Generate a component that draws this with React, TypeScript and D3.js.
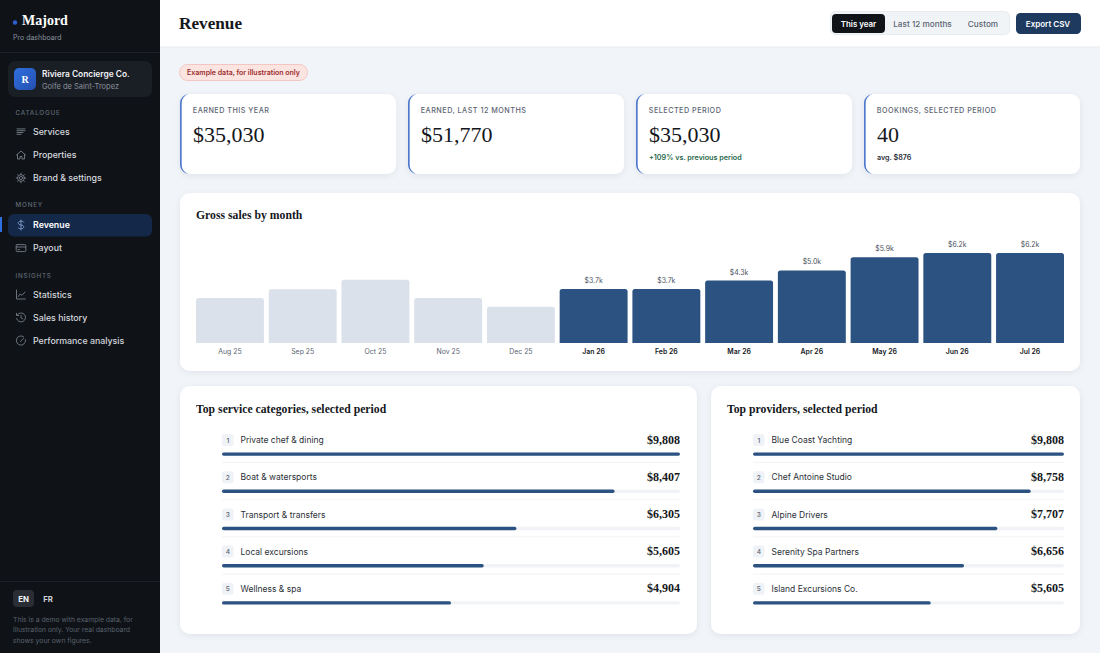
import React from 'react';
import * as d3 from 'd3';

const months = ['Aug 25', 'Sep 25', 'Oct 25', 'Nov 25', 'Dec 25', 'Jan 26', 'Feb 26', 'Mar 26', 'Apr 26', 'May 26', 'Jun 26', 'Jul 26'];
const monthSales = [3100, 3700, 4350, 3100, 2500, 3720, 3720, 4300, 5000, 5900, 6200, 6200];
const monthLabels = ['', '', '', '', '', '$3.7k', '$3.7k', '$4.3k', '$5.0k', '$5.9k', '$6.2k', '$6.2k'];
const selectedFrom = 5;

const kpiTitles = ['EARNED THIS YEAR', 'EARNED, LAST 12 MONTHS', 'SELECTED PERIOD', 'BOOKINGS, SELECTED PERIOD'];
const kpiValues = ['$35,030', '$51,770', '$35,030', '40'];
const kpiNotes = ['', '', '+109% vs. previous period', 'avg. $876'];

const categoryNames = ['Private chef & dining', 'Boat & watersports', 'Transport & transfers', 'Local excursions', 'Wellness & spa'];
const categoryValues = [9808, 8407, 6305, 5605, 4904];
const providerNames = ['Blue Coast Yachting', 'Chef Antoine Studio', 'Alpine Drivers', 'Serenity Spa Partners', 'Island Excursions Co.'];
const providerValues = [9808, 8758, 7707, 6656, 5605];

const navCatalogue = ['Services', 'Properties', 'Brand & settings'];
const navMoney = ['Revenue', 'Payout'];
const navInsights = ['Statistics', 'Sales history', 'Performance analysis'];

const sans = 'Inter, sans-serif';
const serif = '"Liberation Serif", serif';
const money = d3.format('$,');

const NavIcon = ({ name, x, y, color }: { name: string; x: number; y: number; color: string }) => {
  const common = { fill: 'none', stroke: color, strokeWidth: 0.9, strokeLinecap: 'round' as const, strokeLinejoin: 'round' as const };
  return (
    <g transform={`translate(${x},${y})`} {...common}>
      {name === 'Services' && <path d="M-4 -2.6H4M-4 -0.8H4M-4 1H2M-4 2.8H0" />}
      {name === 'Properties' && <path d="M-4.5 0L0 -4L4.5 0M-3.5 -0.5V4H-1V1.5H1V4H3.5V-0.5" />}
      {name === 'Brand & settings' && (<><circle r="1.6" /><circle r="3.4" /><path d="M0 -4.8V-3.6M0 4.8V3.6M-4.8 0H-3.6M4.8 0H3.6M-3.4 -3.4L-2.5 -2.5M3.4 3.4L2.5 2.5M3.4 -3.4L2.5 -2.5M-3.4 3.4L-2.5 2.5" /></>)}
      {name === 'Revenue' && <path d="M0 -5V5M2.8 -2.8C2.2 -3.8 1 -3.8 0 -3.8C-1.6 -3.8 -2.8 -3 -2.8 -1.8C-2.8 0.8 2.8 -0.8 2.8 1.8C2.8 3 1.6 3.8 0 3.8C-1 3.8 -2.2 3.6 -2.8 2.8" />}
      {name === 'Payout' && (<><rect x="-4.8" y="-3.4" width="9.6" height="7" rx="1" /><path d="M-4.8 -1H4.8M-3 1.6H-1.5" /></>)}
      {name === 'Statistics' && <path d="M-4.5 -4.5V4.5H4.5M-2.8 2L-0.8 -0.5L1 0.8L4 -2.5" />}
      {name === 'Sales history' && <path d="M-3.6 -2.8A4.5 4.5 0 1 1 -4.4 1M-4.5 -4.2V-2H-2.3M0 -2.2V0.4L1.8 1.4" />}
      {name === 'Performance analysis' && <path d="M2.6 -3.8A4.6 4.6 0 1 0 4.5 -0.8M-0.6 1L2.6 -2.2" />}
    </g>
  );
};

const RankList = ({ x0, x1, title, names, values }: { x0: number; x1: number; title: string; names: string[]; values: number[] }) => {
  const rowY = d3.scalePoint<number>().domain(d3.range(names.length)).range([440, 588.8]);
  const w = d3.scaleLinear().domain([0, d3.max(values) as number]).range([0, x1 - x0]);
  return (
    <g>
      <text x={x0 - 26} y={412.5} fontFamily={serif} fontWeight={700} fontSize={11.7} letterSpacing={0.02} fill="#14171c">{title}</text>
      {names.map((n, i) => {
        const y = rowY(i) as number;
        return (
          <g key={n}>
            <rect x={x0} y={y - 6} width={11.5} height={12} rx={2.5} fill="#eff2f6" />
            <text x={x0 + 5.8} y={y + 2.6} textAnchor="middle" fontFamily={sans} fontSize={6.6} fontWeight={500} fill="#5b6472">{i + 1}</text>
            <text x={x0 + 18.5} y={y + 3.2} fontFamily={sans} fontSize={8.5} fill="#2b3038">{n}</text>
            <text x={x1} y={y + 3.6} textAnchor="end" fontFamily={serif} fontWeight={700} fontSize={12} fill="#14171c">{money(values[i])}</text>
            <rect x={x0} y={y + 12.4} width={x1 - x0} height={3.4} rx={1.7} fill="#f1f3f6" />
            <rect x={x0} y={y + 12.4} width={w(values[i])} height={3.4} rx={1.7} fill="#2c5282" />
            {i < names.length - 1 && <line x1={x0} x2={x1} y1={y + 22.4} y2={y + 22.4} stroke="#eef0f3" strokeWidth={0.8} />}
          </g>
        );
      })}
    </g>
  );
};

export default function App() {
  const x = d3.scaleBand<string>().domain(months).range([196, 1064]).paddingInner(0.066);
  const y = d3.scaleLinear().domain([0, 6200]).range([343, 253]);
  const kpiX = d3.scaleBand<number>().domain(d3.range(4)).range([180, 1080]).paddingInner(0.0525);

  const navSections = [
    { label: 'CATALOGUE', labelY: 112, items: navCatalogue, ys: [131.5, 155, 178] },
    { label: 'MONEY', labelY: 204.5, items: navMoney, ys: [225, 248] },
    { label: 'INSIGHTS', labelY: 275, items: navInsights, ys: [294.5, 317.5, 340.5] },
  ];

  return (
    <svg width={1100} height={653} viewBox="0 0 1100 653" style={{ position: 'absolute', left: 0, top: 0, display: 'block' }}>
      <defs>
        <filter id="soft" x="-5%" y="-10%" width="110%" height="125%">
          <feDropShadow dx="0" dy="1.5" stdDeviation="3" floodColor="#1a2a44" floodOpacity="0.07" />
        </filter>
        <linearGradient id="logo" x1="0" y1="0" x2="1" y2="1">
          <stop offset="0" stopColor="#2f6fe0" />
          <stop offset="1" stopColor="#2450b0" />
        </linearGradient>
      </defs>
      <rect width={1100} height={653} fill="#f1f4f8" />

      {/* header */}
      <rect x={160} width={940} height={47} fill="#fff" />
      <line x1={160} x2={1100} y1={47} y2={47} stroke="#e8ebef" />
      <text x={179} y={28.5} fontFamily={serif} fontWeight={700} fontSize={17.2} fill="#14171c">Revenue</text>
      <rect x={830.5} y={11.5} width={179} height={23} rx={5} fill="#f1f4f7" stroke="#e8ebef" />
      <rect x={832} y={14} width={53} height={19} rx={4} fill="#101418" />
      <text x={858.5} y={26.7} textAnchor="middle" fontFamily={sans} fontWeight={600} fontSize={7.9} fill="#fff">This year</text>
      <text x={922.5} y={26.7} textAnchor="middle" fontFamily={sans} fontWeight={500} fontSize={8.2} fill="#5b6472">Last 12 months</text>
      <text x={983} y={26.7} textAnchor="middle" fontFamily={sans} fontWeight={500} fontSize={8.2} fill="#5b6472">Custom</text>
      <rect x={1016} y={13} width={65} height={21} rx={4.5} fill="#1f3a5f" />
      <text x={1048} y={26.8} textAnchor="middle" fontFamily={sans} fontWeight={600} fontSize={8} fill="#fff">Export CSV</text>

      {/* sidebar */}
      <rect width={160} height={653} fill="#0f1318" />
      <circle cx={15} cy={22.5} r={2.2} fill="#2f5fd0" />
      <text x={22} y={25} fontFamily={serif} fontWeight={700} fontSize={14} fill="#fff">Majord</text>
      <text x={13} y={40} fontFamily={sans} fontSize={7} fill="#8a919c">Pro dashboard</text>
      <line x1={0} x2={160} y1={52.5} y2={52.5} stroke="#1d2229" />
      <rect x={8} y={61} width={144} height={36} rx={7} fill="#1a1e25" />
      <rect x={14} y={68} width={22} height={22} rx={5} fill="url(#logo)" />
      <text x={25} y={82.5} textAnchor="middle" fontFamily={serif} fontWeight={700} fontSize={10} fill="#fff">R</text>
      <text x={42} y={76.5} fontFamily={sans} fontWeight={600} fontSize={8.4} fill="#f2f4f7">Riviera Concierge Co.</text>
      <text x={42} y={88.5} fontFamily={sans} fontSize={7.5} fill="#8a919c">Golfe de Saint-Tropez</text>

      <rect x={8} y={214} width={144} height={22.5} rx={6} fill="#14284a" />
      <rect x={0} y={217} width={2} height={15} fill="#2f6fe0" />
      {navSections.map(s => (
        <g key={s.label}>
          <text x={15.5} y={s.labelY + 2.5} fontFamily={sans} fontWeight={500} fontSize={6.3} letterSpacing={0.8} fill="#5f6773">{s.label}</text>
          {s.items.map((item, i) => (
            <g key={item}>
              <NavIcon name={item} x={21} y={s.ys[i]} color={item === 'Revenue' ? '#7f9cc9' : '#767d88'} />
              <text x={33} y={s.ys[i] + 3.2} fontFamily={sans} fontWeight={item === 'Revenue' ? 600 : 500} fontSize={8.8} fill={item === 'Revenue' ? '#fff' : '#d5d9df'}>{item}</text>
            </g>
          ))}
        </g>
      ))}
      <line x1={0} x2={160} y1={581.5} y2={581.5} stroke="#1d2229" />
      <rect x={13} y={590} width={21} height={17} rx={4} fill="#2a2e34" />
      <text x={23.5} y={601.5} textAnchor="middle" fontFamily={sans} fontWeight={700} fontSize={7.8} fill="#f2f4f7">EN</text>
      <text x={48} y={601.5} textAnchor="middle" fontFamily={sans} fontWeight={700} fontSize={7.8} fill="#cfd3d9">FR</text>
      {['This is a demo with example data, for', 'illustration only. Your real dashboard', 'shows your own figures.'].map((t, i) => (
        <text key={t} x={13} y={621.5 + i * 10.8} fontFamily={sans} fontSize={6.8} fill="#5a616c">{t}</text>
      ))}

      {/* example badge */}
      <rect x={179.5} y={64.5} width={128} height={16} rx={8} fill="#fce4e1" stroke="#f0bdb8" strokeWidth={0.8} />
      <text x={243.5} y={75.1} textAnchor="middle" fontFamily={sans} fontWeight={600} fontSize={7} fill="#9b2c2c">Example data, for illustration only</text>

      {/* kpi cards */}
      {kpiTitles.map((t, i) => {
        const cx = kpiX(i) as number;
        const cw = kpiX.bandwidth();
        return (
          <g key={t}>
            <rect x={cx} y={94} width={cw} height={80} rx={9} fill="#fff" filter="url(#soft)" />
            <path d={`M${cx + 9} 94 A9 9 0 0 0 ${cx} 103 V165 A9 9 0 0 0 ${cx + 9} 174 A9 9 0 0 1 ${cx + 1.7} 165 V103 A9 9 0 0 1 ${cx + 9} 94 Z`} fill="#4f7bcf" />
            <text x={cx + 12.8} y={113} fontFamily={sans} fontWeight={500} fontSize={7.2} letterSpacing={0.5} fill="#5b6472">{t}</text>
            <text x={cx + 13} y={141.5} fontFamily={serif} fontSize={22} fill="#14171c">{kpiValues[i]}</text>
            {kpiNotes[i] && <text x={cx + 13} y={159.6} fontFamily={sans} fontWeight={600} fontSize={7.2} fill={i === 2 ? '#276749' : '#2b3038'}>{kpiNotes[i]}</text>}
          </g>
        );
      })}

      {/* monthly chart */}
      <rect x={180} y={193} width={900} height={178} rx={10} fill="#fff" filter="url(#soft)" />
      <text x={196} y={219} fontFamily={serif} fontWeight={700} fontSize={11.7} letterSpacing={0.02} fill="#14171c">Gross sales by month</text>
      {months.map((m, i) => {
        const bx = x(m) as number;
        const bw = x.bandwidth();
        const top = y(monthSales[i]);
        const active = i >= selectedFrom;
        return (
          <g key={m}>
            <path d={`M${bx} ${y(0)} V${top + 2.5} a2.5 2.5 0 0 1 2.5 -2.5 H${bx + bw - 2.5} a2.5 2.5 0 0 1 2.5 2.5 V${y(0)} Z`} fill={active ? '#2c5282' : '#dbe1ea'} />
            {monthLabels[i] && <text x={bx + bw / 2} y={top - 6} textAnchor="middle" fontFamily={sans} fontSize={6.9} fill="#4a5260">{monthLabels[i]}</text>}
            <text x={bx + bw / 2} y={354.2} textAnchor="middle" fontFamily={sans} fontWeight={active ? 600 : 400} fontSize={6.9} fill={active ? '#14171c' : '#5b6472'}>{m}</text>
          </g>
        );
      })}

      {/* ranked lists */}
      <rect x={180} y={386} width={517} height={248} rx={10} fill="#fff" filter="url(#soft)" />
      <rect x={711} y={386} width={369} height={248} rx={10} fill="#fff" filter="url(#soft)" />
      <RankList x0={222} x1={680} title="Top service categories, selected period" names={categoryNames} values={categoryValues} />
      <RankList x0={753} x1={1064} title="Top providers, selected period" names={providerNames} values={providerValues} />
    </svg>
  );
}
